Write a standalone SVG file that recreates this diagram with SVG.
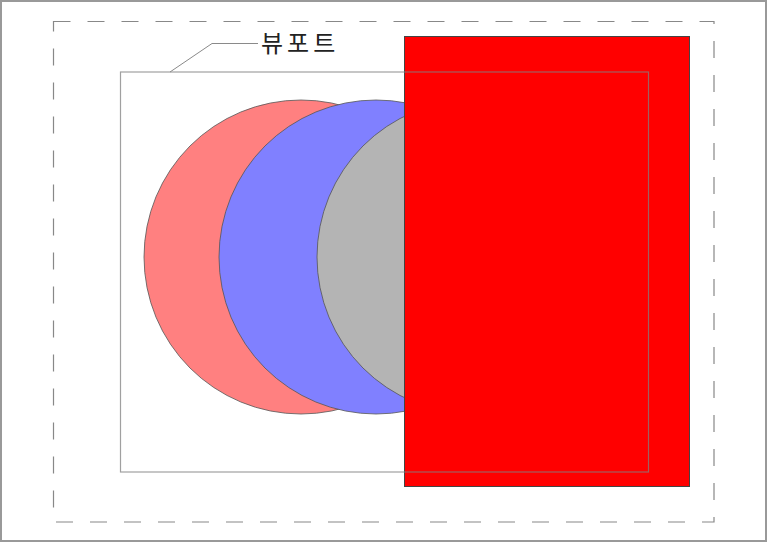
<svg xmlns="http://www.w3.org/2000/svg" width="768" height="544" viewBox="0 0 768 544">
<style>
.circ{stroke:#555;stroke-width:0.8}
.lbl{font-family:"Noto Sans CJK KR","Noto Sans",sans-serif;font-size:24px;fill:#222;letter-spacing:4px}
.thin{fill:none;stroke:#8a8a8a;stroke-width:1}
</style>
<rect width="768" height="544" fill="#fff"/>
<rect id="frame" x="1" y="1" width="765" height="540" fill="none" stroke="#999" stroke-width="2"/>
<g id="page">
<rect x="53.5" y="21.5" width="660.5" height="500.5" fill="none" stroke="#888" stroke-width="1.2" stroke-dasharray="17 17"/>
</g>
<g id="circle-pink"><circle class="circ" cx="301" cy="257" r="157" fill="#ff8080"/></g>
<g id="circle-blue"><circle class="circ" cx="376" cy="257" r="157" fill="#8080ff"/></g>
<g id="circle-gray"><circle class="circ" cx="474" cy="257" r="157" fill="#b4b4b4"/></g>
<g id="red-rect"><rect x="404.5" y="36.5" width="285" height="450" fill="#ff0000" stroke="#444" stroke-width="1"/></g>
<g id="viewport"><rect x="120.5" y="72" width="528" height="400" fill="none" stroke="#808080" stroke-opacity="0.75" stroke-width="1.2"/></g>
<g id="connectors"><polyline class="thin" points="170,72 212,43.5 258,43.5"/></g>
<g id="label"><text class="lbl" x="261" y="51.5">뷰포트</text></g>
</svg>
